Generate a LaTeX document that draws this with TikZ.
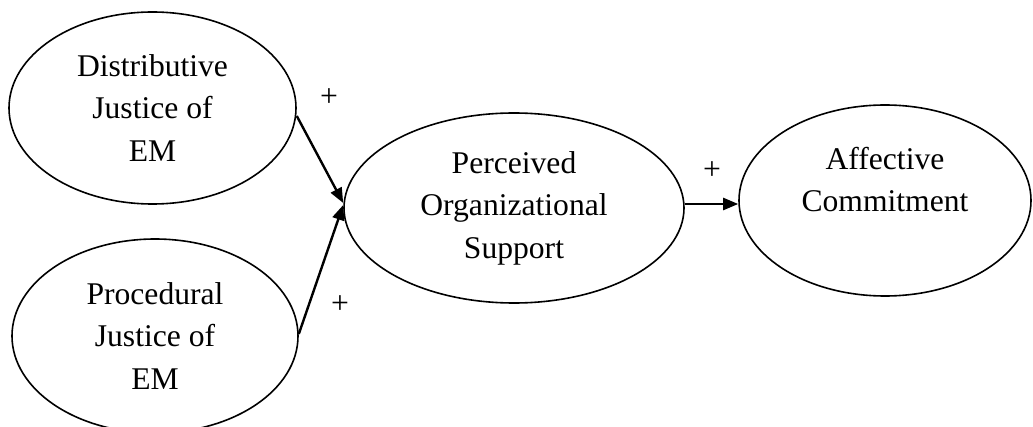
\documentclass[tikz,border=0pt]{standalone}
\usepackage{fontspec}
\setmainfont{Liberation Serif}
\usetikzlibrary{shapes.geometric,arrows.meta}
\tikzset{
  construct/.style={ellipse, draw, line width=1.6pt, inner sep=0pt, align=center,
    font=\fontsize{31.6}{42.5}\selectfont},
  link/.style={line width=2.4pt, -{Triangle[length=15pt,width=12pt]}},
  sign/.style={font=\fontsize{31.6}{38}\selectfont, inner sep=0pt}
}
\begin{document}
\begin{tikzpicture}[x=1pt,y=-1pt]
\useasboundingbox (0,0) rectangle (1033,427);
\node[construct, minimum width=287pt, minimum height=192pt] (D) at (152.5,108) {Distributive\\Justice of\\EM};
\node[construct, minimum width=286pt, minimum height=194pt] (R) at (155,336) {Procedural\\Justice of\\EM};
\node[construct, minimum width=340pt, minimum height=190pt] (P) at (514,208) {Perceived\\Organizational\\Support};
\node[construct, minimum width=292pt, minimum height=191pt] (A) at (885,200.5) {Affective\\Commitment\\\mbox{}};
\draw[link] ([yshift=-8pt]D.east) -- ([yshift=5pt]P.west);
\draw[link] ([yshift=2pt]R.east) -- ([yshift=3pt]P.west);
\draw[link] ([yshift=4pt]P.east) -- ([yshift=4pt]P.east -| A.west);
\node[sign] (s1) at (329,98) {+};
\node[sign] (s2) at (340,305) {+};
\node[sign] (s3) at (712,171) {+};
\end{tikzpicture}
\end{document}
